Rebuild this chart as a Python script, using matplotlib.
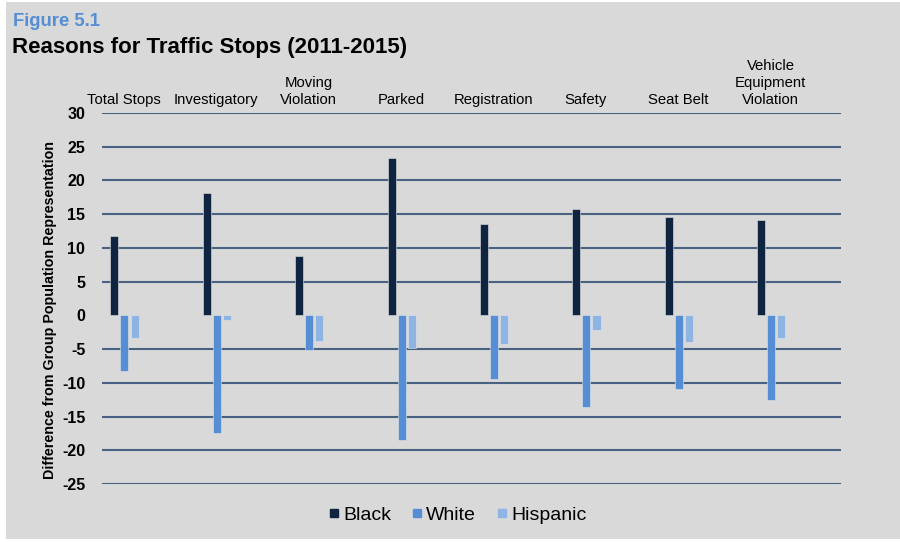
import matplotlib
matplotlib.use('Agg')
import matplotlib.pyplot as plt
import numpy as np
from matplotlib.lines import Line2D
from matplotlib.patches import Rectangle

plt.rcParams['font.family'] = ['Liberation Sans', 'DejaVu Sans']

# Данные: отклонение от доли группы в населении
categories = ['Total Stops', 'Investigatory', 'Moving\nViolation', 'Parked',
              'Registration', 'Safety', 'Seat Belt', 'Vehicle\nEquipment\nViolation']
black = [11.7, 18.2, 8.8, 23.4, 13.6, 15.7, 14.6, 14.1]
white = [-8.2, -17.5, -5.2, -18.5, -9.5, -13.6, -10.9, -12.6]
hispanic = [-3.3, -0.7, -3.8, -4.9, -4.2, -2.2, -3.9, -3.3]
series_names = ['Black', 'White', 'Hispanic']
colors = ['#0f2440', '#558ed5', '#8eb4e3']
yticks = [30, 25, 20, 15, 10, 5, 0, -5, -10, -15, -20, -25]

bg = '#d9d9d9'
grid_col = '#4a6282'

fig = plt.figure(figsize=(9, 5.42), dpi=100)
fig.patch.set_facecolor('white')
# серый фон всей карточки
fig.patches.append(Rectangle((6 / 900, 0.005), 1, 1 - 2 / 542 - 0.005,
                             transform=fig.transFigure, facecolor=bg,
                             edgecolor='none', zorder=-10))

ax = fig.add_axes([102 / 900, 1 - 484 / 542, 739 / 900, 371 / 542])
ax.set_facecolor(bg)

x = np.arange(len(categories))
w = 0.087
step = 0.109
for k, (vals, col) in enumerate(zip([black, white, hispanic], colors)):
    ax.bar(x + (k - 1) * step + 0.005, vals, width=w, color=col,
           edgecolor='#e4e4e4', linewidth=0.4, zorder=3)

for yv in yticks:
    if yv != 0:
        ax.axhline(yv, color=grid_col, lw=1.5, zorder=1)

ax.set_ylim(-25, 30)
ax.set_xlim(-0.238, 7.76)
ax.set_yticks(yticks)
ax.set_yticklabels([str(t) for t in yticks], fontsize=11.5, fontweight='bold')
ax.tick_params(axis='y', length=0, pad=12)
ax.set_xticks([])
for s in ax.spines.values():
    s.set_visible(False)

# подписи категорий над графиком
for i, cat in enumerate(categories):
    ax.annotate(cat, xy=(i, 1.0), xycoords=('data', 'axes fraction'),
                xytext=(0, 4), textcoords='offset points',
                ha='center', va='bottom', fontsize=10.7, linespacing=1.3)

ax.set_ylabel('Difference from Group Population Representation',
              fontsize=10.3, fontweight='bold')
ax.yaxis.set_label_coords(-0.061, 0.47)

fig.text(13 / 900, 1 - 25.5 / 542, 'Figure 5.1', color='#558ed5',
         fontsize=13.3, fontweight='bold', va='baseline', ha='left')
fig.text(12 / 900, 1 - 53 / 542, 'Reasons for Traffic Stops (2011-2015)',
         fontsize=16, fontweight='bold', va='baseline', ha='left')

handles = [Line2D([], [], marker='s', linestyle='none', markersize=6,
                  markerfacecolor=c, markeredgecolor=c) for c in colors]
fig.legend(handles, series_names, loc='center',
           bbox_to_anchor=(458 / 900, 1 - 515 / 542), ncol=3, frameon=False,
           fontsize=14, handlelength=0.5, handletextpad=0.2,
           columnspacing=1.1, borderaxespad=0)

fig.savefig('out.png', dpi=100, facecolor=fig.get_facecolor())
